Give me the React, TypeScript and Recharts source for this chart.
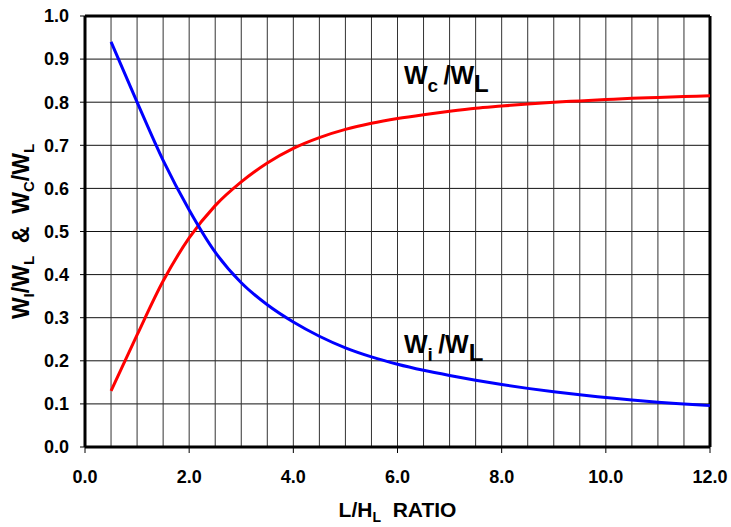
import React from 'react';
import {
  LineChart,
  Line,
  XAxis,
  YAxis,
  CartesianGrid,
  ReferenceLine,
  ReferenceDot,
  Label,
} from 'recharts';

// L/H_L ratio values (x)
const ratio = [0.5, 1, 1.5, 2, 2.5, 3, 3.5, 4, 4.5, 5, 5.5, 6, 6.5, 7, 7.5, 8, 8.5, 9, 9.5, 10, 10.5, 11, 11.5, 12];
// Wi / WL (blue)
const wiRatio = [0.94, 0.8, 0.665, 0.55, 0.452, 0.381, 0.33, 0.29, 0.257, 0.23, 0.209, 0.192, 0.178, 0.166, 0.155, 0.145, 0.136, 0.128, 0.121, 0.115, 0.109, 0.104, 0.1, 0.096];
// Wc / WL (red)
const wcRatio = [0.13, 0.26, 0.385, 0.485, 0.56, 0.615, 0.659, 0.693, 0.718, 0.737, 0.751, 0.762, 0.771, 0.779, 0.786, 0.791, 0.796, 0.8, 0.803, 0.806, 0.809, 0.811, 0.813, 0.815];

const xTicks = [0, 2, 4, 6, 8, 10, 12];
const yTicks = [0, 0.1, 0.2, 0.3, 0.4, 0.5, 0.6, 0.7, 0.8, 0.9, 1.0];
const xGridLines = [0.5, 1, 1.5, 2, 2.5, 3, 3.5, 4, 4.5, 5, 5.5, 6, 6.5, 7, 7.5, 8, 8.5, 9, 9.5, 10, 10.5, 11, 11.5];

const data = ratio.map((r, i) => ({ r, wi: wiRatio[i], wc: wcRatio[i] }));

const FONT = '"Liberation Sans", Arial, Helvetica, sans-serif';

const CurveLabel = ({ cx, cy, sub }: any) => (
  <text x={cx} y={cy} fontFamily={FONT} fontWeight="bold" fill="#000" style={{ whiteSpace: 'pre' }}>
    <tspan fontSize={25}>W</tspan>
    <tspan fontSize={19} dy={8}>{sub + ' '}</tspan>
    <tspan fontSize={25} dy={-8}>/W</tspan>
    <tspan fontSize={24} dy={8}>L</tspan>
  </text>
);

const XLabel = (props: any) => {
  const vb = props.viewBox || {};
  const cx = vb.x + vb.width / 2;
  const y = vb.y + 70;
  return (
    <text x={cx} y={y} textAnchor="middle" fontFamily={FONT} fontWeight="bold" fontSize={21} fill="#000" style={{ whiteSpace: 'pre' }}>
      <tspan>L/H</tspan>
      <tspan fontSize={14} dy={5}>L</tspan>
      <tspan dy={-5}>{'  RATIO'}</tspan>
    </text>
  );
};

const YLabel = (props: any) => {
  const vb = props.viewBox || {};
  const x = 29;
  const cy = vb.y + vb.height / 2;
  return (
    <text
      x={x}
      y={cy}
      textAnchor="middle"
      transform={`rotate(-90, ${x}, ${cy})`}
      fontFamily={FONT}
      fontWeight="bold"
      fontSize={23}
      fill="#000"
      style={{ whiteSpace: 'pre' }}
    >
      <tspan>W</tspan>
      <tspan fontSize={15} dy={5}>I</tspan>
      <tspan dy={-5}>/W</tspan>
      <tspan fontSize={15} dy={5}>L</tspan>
      <tspan dy={-5}>{'  &  W'}</tspan>
      <tspan fontSize={15} dy={5}>C</tspan>
      <tspan dy={-5}>/W</tspan>
      <tspan fontSize={15} dy={5}>L</tspan>
    </text>
  );
};

export default function App() {
  return (
    <div style={{ position: 'absolute', left: 0, top: 0, background: '#fff' }}>
      <LineChart width={731} height={527} data={data} margin={{ top: 16, right: 21, left: 0, bottom: 0 }}>
        <CartesianGrid stroke="#111" strokeWidth={1} vertical={false} />
        {xGridLines.map((v) => (
          <ReferenceLine key={v} x={v} stroke="#333" strokeWidth={1} />
        ))}
        <XAxis
          dataKey="r"
          type="number"
          domain={[0, 12]}
          ticks={xTicks}
          tickFormatter={(v: number) => v.toFixed(1)}
          height={80}
          tickSize={6}
          tickMargin={17}
          axisLine={{ stroke: '#000', strokeWidth: 3 }}
          tickLine={{ stroke: '#000', strokeWidth: 1 }}
          tick={{ fill: '#000', fontFamily: FONT, fontWeight: 'bold', fontSize: 18 }}
          interval={0}
        >
          <Label content={<XLabel />} />
        </XAxis>
        <YAxis
          type="number"
          domain={[0, 1]}
          ticks={yTicks}
          tickFormatter={(v: number) => v.toFixed(1)}
          width={85}
          tickSize={5}
          tickMargin={11}
          axisLine={{ stroke: '#000', strokeWidth: 3 }}
          tickLine={{ stroke: '#000', strokeWidth: 1 }}
          tick={{ fill: '#000', fontFamily: FONT, fontWeight: 'bold', fontSize: 18 }}
          interval={0}
        >
          <Label content={<YLabel />} />
        </YAxis>
        <ReferenceLine y={1} stroke="#000" strokeWidth={3} />
        <ReferenceLine x={12} stroke="#000" strokeWidth={3} />
        <Line type="monotone" dataKey="wc" stroke="#ff0000" strokeWidth={3} dot={false} isAnimationActive={false} />
        <Line type="monotone" dataKey="wi" stroke="#0000ff" strokeWidth={3} dot={false} isAnimationActive={false} />
        <ReferenceDot x={6.125} y={0.842} r={0} ifOverflow="visible" shape={(p: any) => <CurveLabel {...p} sub="c" />} />
        <ReferenceDot x={6.125} y={0.218} r={0} ifOverflow="visible" shape={(p: any) => <CurveLabel {...p} sub="i" />} />
      </LineChart>
    </div>
  );
}
